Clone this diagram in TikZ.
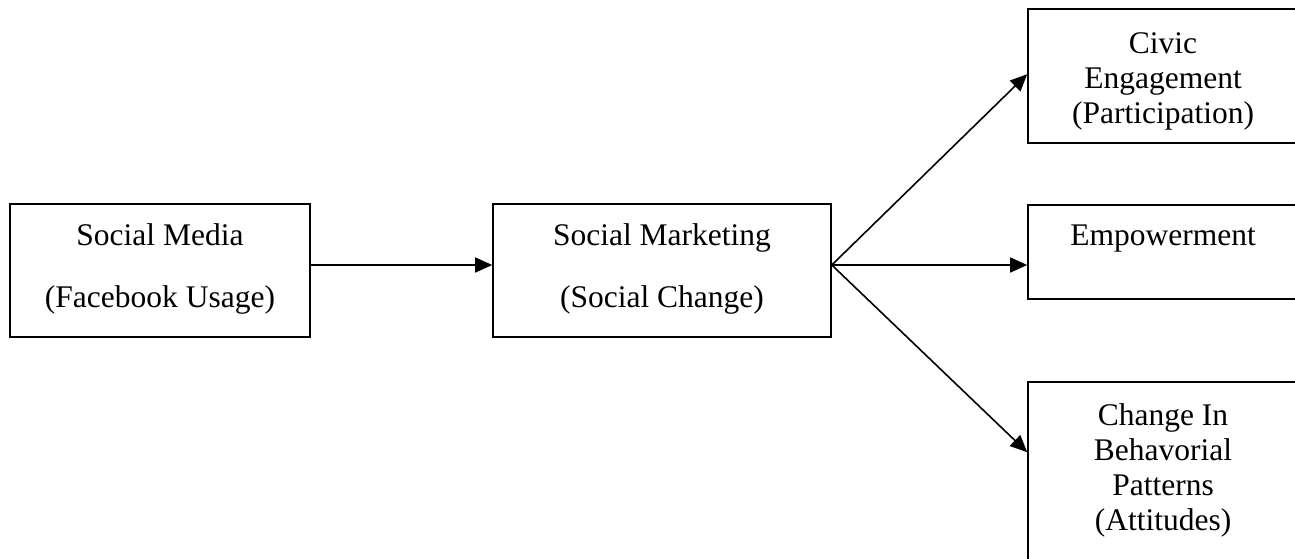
\documentclass[tikz,border=0pt]{standalone}
\usepackage{fontspec}
\setmainfont{Liberation Serif}
\usetikzlibrary{arrows.meta,calc}

\tikzset{
  box/.style={draw, line width=0.8pt, rectangle, inner sep=0pt},
  txt/.style={inner sep=0pt, align=center, font=\fontsize{15.75pt}{17.5pt}\selectfont},
  widetxt/.style={txt, font=\fontsize{15.75pt}{31pt}\selectfont},
  link/.style={line width=0.8pt, -{Triangle[length=8.5pt,width=7.5pt]}}
}

\begin{document}
\begin{tikzpicture}[x=0.5pt, y=-0.5pt]
  % page frame
  \useasboundingbox[fill=white] (0,0) rectangle (1295,558);

  % source and intermediate boxes
  \node[box, minimum width=150pt, minimum height=66.5pt] (media) at (160,270.5) {};
  \node[widetxt] (media-t) at ([yshift=1pt]media.center) {Social Media\\(Facebook Usage)};
  \node[box, minimum width=169pt, minimum height=66.5pt] (marketing) at (662,270.5) {};
  \node[widetxt] (marketing-t) at ([yshift=1pt]marketing.center) {Social Marketing\\(Social Change)};

  % outcome boxes
  \node[box, minimum width=135pt, minimum height=67pt] (civic) at (1163,76) {};
  \node[txt] (civic-t) at ([yshift=-2.5pt]civic.center) {Civic\\Engagement\\(Participation)};
  \node[box, minimum width=135pt, minimum height=47pt] (empower) at (1163,252) {};
  \node[txt] (empower-t) at ([yshift=-3pt]empower.center) {Empowerment\\\strut};
  \node[box, minimum width=135pt, minimum height=103pt] (change) at (1163,485) {};
  \node[txt] (change-t) at ([yshift=-2.5pt]change.center) {Change In\\Behavorial\\Patterns\\(Attitudes)\\\strut};

  % connectors
  \coordinate (a1) at ([yshift=2.75pt]media.east);
  \coordinate (fork) at ([yshift=2.75pt]marketing.east);
  \draw[link] (a1) -- (a1 -| marketing.west);
  \draw[link] (fork) -- ($(civic.north west)+(0,66)$);
  \draw[link] (fork) -- (fork -| empower.west);
  \draw[link] (fork) -- ($(change.north west)+(0,71)$);
\end{tikzpicture}
\end{document}
